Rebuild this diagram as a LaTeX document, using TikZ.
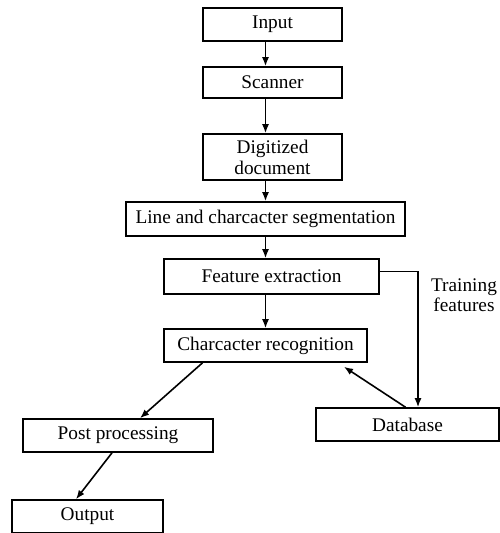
\documentclass[tikz,border=0pt]{standalone}
\usepackage{fontspec}
\setmainfont{Liberation Serif}
\usetikzlibrary{arrows.meta}

\begin{document}
\begin{tikzpicture}[x=1pt, y=-1pt, >={Latex[length=9pt, width=7pt]}, line width=1.6pt,
  box/.style={rectangle, draw, minimum width=#1, minimum height=33pt, inner sep=0pt, anchor=center, align=center, font=\fontsize{19.3}{21}\selectfont}]
  \useasboundingbox (0,0) rectangle (499,533);
  \node[box=139pt] (input) at (272.5,24.5) {Input};
  \node[box=139pt, minimum height=31pt] (scanner) at (272.5,82.5) {Scanner};
  \node[box=139pt, minimum height=46pt] (digit) at (272.5,157) {Digitized\\document};
  \node[box=279pt, minimum height=34pt] (seg) at (265.5,219) {Line and charcacter segmentation};
  \node[box=215pt, minimum height=35pt] (feat) at (271.5,276.5) {Feature extraction};
  \node[box=203pt] (rec) at (265.5,345.5) {Charcacter recognition};
  \node[box=183pt] (db) at (407.5,424.5) {Database};
  \node[box=190pt] (post) at (118,435.5) {Post processing};
  \node[box=151pt] (output) at (87.5,516.5) {Output};
  \node[align=center, inner sep=0pt, font=\fontsize{19.3}{20}\selectfont] (trainlbl) at (464,295) {Training\\features};
  % main flow
  \draw[->] (input.south -| seg) -- (scanner.north -| seg);
  \draw[->] (scanner.south -| seg) -- (digit.north -| seg);
  \draw[->] (digit.south -| seg) -- (seg.north);
  \draw[->] (seg.south) -- (feat.north -| seg);
  \draw[->] (feat.south -| seg) -- (rec.north);
  \draw[->] ([yshift=5pt]feat.east) -| ([xshift=10.5pt]db.north);
  \draw[->] ([xshift=-2pt]db.north) -- ([xshift=78.5pt, yshift=-4pt]rec.south);
  \draw[->] ([xshift=-63pt]rec.south) -- ([xshift=22pt]post.north);
  \draw[->] ([xshift=-6pt]post.south) -- ([xshift=-11.5pt]output.north);
\end{tikzpicture}
\end{document}
